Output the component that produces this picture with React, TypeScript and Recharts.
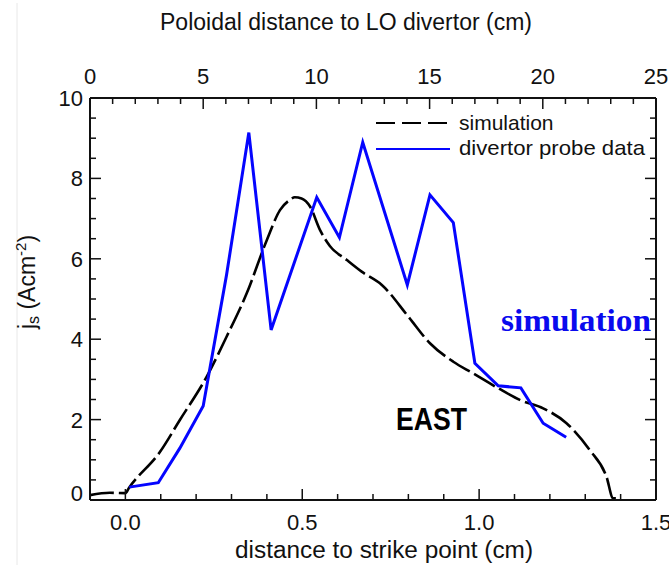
import { Line, LineChart, XAxis, YAxis } from "recharts";

// simulation profile (dashed black)
const simDistance = [
  -0.1, -0.044, 0.0, 0.01, 0.098, 0.154, 0.23, 0.286, 0.343, 0.4, 0.437, 0.466, 0.479, 0.498,
  0.522, 0.55, 0.578, 0.626, 0.668, 0.725, 0.8, 0.861, 0.927, 0.983, 1.054, 1.115, 1.181,
  1.247, 1.313, 1.36, 1.379, 1.398,
];
const simCurrent = [
  0.12, 0.18, 0.17, 0.3, 1.2, 1.99, 3.07, 4.06, 5.14, 6.47, 7.21, 7.47, 7.53, 7.5, 7.3, 6.72,
  6.32, 5.97, 5.68, 5.35, 4.56, 3.9, 3.44, 3.15, 2.78, 2.49, 2.28, 1.91, 1.24, 0.58, 0.04, 0.04,
];

// divertor probe data (solid blue)
const probeDistance = [
  0.011, 0.093, 0.154, 0.22, 0.286, 0.349, 0.412, 0.541, 0.605, 0.671, 0.797, 0.861, 0.927,
  0.988, 1.054, 1.118, 1.181, 1.246,
];
const probeCurrent = [
  0.32, 0.43, 1.29, 2.34, 5.6, 9.14, 4.23, 7.53, 6.53, 8.9, 5.35, 7.59, 6.9, 3.4, 2.84, 2.79,
  1.91, 1.56,
];

// top axis: poloidal distance (cm), 0–25
const poloidalRange = [0, 25];

const bottomTicks = [
  -0.1, 0, 0.1, 0.2, 0.3, 0.4, 0.5, 0.6, 0.7, 0.8, 0.9, 1.0, 1.1, 1.2, 1.3, 1.4, 1.5,
];
const bottomMajor = [0, 0.5, 1.0, 1.5];
const topTicks = Array.from({ length: 26 }, (_, i) => i);
const topMajor = [0, 5, 10, 15, 20, 25];
const yTicks = Array.from({ length: 21 }, (_, i) => i * 0.5);
const yMajor = [0, 2, 4, 6, 8, 10];

const simData = simDistance.map((x, i) => ({ x, y: simCurrent[i] }));
const probeData = probeDistance.map((x, i) => ({ x, y: probeCurrent[i] }));
// invisible series so the top / right axes get drawn
const frameData = poloidalRange.map((x, i) => ({ x, y: i * 10 }));

const FONT = "'Liberation Sans', Arial, sans-serif";
const isIn = (list: number[], v: number) => list.some((m) => Math.abs(m - v) < 1e-6);

function BottomTick(props: any) {
  const { x, y, payload } = props;
  const major = isIn(bottomMajor, payload.value);
  return (
    <g>
      <line x1={x} x2={x} y1={y} y2={y - (major ? 11 : 6)} stroke="#111" strokeWidth={1.5} />
      {major && (
        <text x={x} y={y + 30} textAnchor="middle" fontSize={22} fontFamily={FONT} fill="#111">
          {payload.value.toFixed(1)}
        </text>
      )}
    </g>
  );
}

function TopTick(props: any) {
  const { x, y, payload } = props;
  const major = isIn(topMajor, payload.value);
  return (
    <g>
      <line x1={x} x2={x} y1={y} y2={y + (major ? 11 : 6)} stroke="#111" strokeWidth={1.5} />
      {major && (
        <text x={x} y={y - 14} textAnchor="middle" fontSize={22} fontFamily={FONT} fill="#111">
          {payload.value}
        </text>
      )}
    </g>
  );
}

function LeftTick(props: any) {
  const { x, y, payload } = props;
  const major = isIn(yMajor, payload.value);
  return (
    <g>
      <line x1={x} x2={x + (major ? 11 : 6)} y1={y} y2={y} stroke="#111" strokeWidth={1.5} />
      {major && (
        <text
          x={x - 7}
          y={y + 8 - (payload.value === 0 ? 7 : 0)}
          textAnchor="end"
          fontSize={22}
          fontFamily={FONT}
          fill="#111"
        >
          {payload.value}
        </text>
      )}
    </g>
  );
}

function RightTick(props: any) {
  const { x, y, payload } = props;
  const major = isIn(yMajor, payload.value);
  return <line x1={x} x2={x - (major ? 11 : 6)} y1={y} y2={y} stroke="#111" strokeWidth={1.5} />;
}

const axisLine = { stroke: "#111", strokeWidth: 2 };

export default function App() {
  return (
    <div style={{ position: "absolute", left: 0, top: 0, width: 669, height: 565, background: "#fff" }}>
      <LineChart width={669} height={565} margin={{ top: 0, right: 0, bottom: 0, left: 0 }}>
        <XAxis
          xAxisId="bottom"
          type="number"
          dataKey="x"
          domain={[-0.1, 1.5]}
          ticks={bottomTicks}
          interval={0}
          allowDataOverflow
          height={65}
          tickSize={0}
          tickMargin={0}
          tickLine={false}
          axisLine={axisLine}
          tick={(p: any) => <BottomTick {...p} />}
        />
        <XAxis
          xAxisId="top"
          orientation="top"
          type="number"
          dataKey="x"
          domain={poloidalRange}
          ticks={topTicks}
          interval={0}
          allowDataOverflow
          height={98}
          tickSize={0}
          tickMargin={0}
          tickLine={false}
          axisLine={axisLine}
          tick={(p: any) => <TopTick {...p} />}
        />
        <YAxis
          yAxisId="left"
          type="number"
          domain={[0, 10]}
          ticks={yTicks}
          interval={0}
          allowDataOverflow
          width={90}
          tickSize={0}
          tickMargin={0}
          tickLine={false}
          axisLine={axisLine}
          tick={(p: any) => <LeftTick {...p} />}
        />
        <YAxis
          yAxisId="right"
          orientation="right"
          type="number"
          domain={[0, 10]}
          ticks={yTicks}
          interval={0}
          allowDataOverflow
          width={13}
          tickSize={0}
          tickMargin={0}
          tickLine={false}
          axisLine={axisLine}
          tick={(p: any) => <RightTick {...p} />}
        />
        <Line
          xAxisId="top"
          yAxisId="right"
          data={frameData}
          dataKey="y"
          stroke="none"
          dot={false}
          activeDot={false}
          legendType="none"
          isAnimationActive={false}
        />
        <Line
          xAxisId="bottom"
          yAxisId="left"
          data={simData}
          dataKey="y"
          type="monotone"
          stroke="#000"
          strokeWidth={2.6}
          strokeDasharray="24 5"
          dot={false}
          isAnimationActive={false}
        />
        <Line
          xAxisId="bottom"
          yAxisId="left"
          data={probeData}
          dataKey="y"
          type="linear"
          stroke="#0505ff"
          strokeWidth={3}
          dot={false}
          isAnimationActive={false}
        />
      </LineChart>

      <svg
        width={669}
        height={565}
        style={{ position: "absolute", left: 0, top: 0, pointerEvents: "none" }}
      >
        <line x1={17} x2={17} y1={3} y2={565} stroke="#e8e8e8" strokeWidth={1} />
        <text x={346} y={30} textAnchor="middle" fontSize={23} fontFamily={FONT} fill="#111">
          Poloidal distance to LO divertor (cm)
        </text>
        <text x={384} y={558} textAnchor="middle" fontSize={23} fontFamily={FONT} fill="#111" textLength={298} lengthAdjust="spacingAndGlyphs">
          distance to strike point (cm)
        </text>
        <text
          transform="translate(35 282) rotate(-90)"
          textAnchor="middle"
          fontSize={23}
          fontFamily={FONT}
          fill="#111"
        >
          j<tspan fontSize={16} dy={4}>s</tspan>
          <tspan dy={-4}> (Acm</tspan>
          <tspan fontSize={15} dy={-9}>-2</tspan>
          <tspan dy={9}>)</tspan>
        </text>

        {/* legend */}
        <line x1={376} x2={448} y1={123} y2={123} stroke="#000" strokeWidth={2.2} strokeDasharray="19 7" />
        <text x={459} y={130} fontSize={21} fontFamily={FONT} fill="#111">
          simulation
        </text>
        <line x1={376} x2={450} y1={149} y2={149} stroke="#0505ff" strokeWidth={2.2} />
        <text x={459} y={155} fontSize={21} fontFamily={FONT} fill="#111" textLength={186} lengthAdjust="spacingAndGlyphs">
          divertor probe data
        </text>

        <text
          x={501}
          y={331}
          fontSize={31}
          fontWeight="bold"
          fontFamily="'Liberation Serif', 'Times New Roman', serif"
          fill="#0a0aee"
          textLength={150}
          lengthAdjust="spacingAndGlyphs"
        >
          simulation
        </text>
        <text
          x={396}
          y={430}
          fontSize={31}
          fontWeight="bold"
          fontFamily={FONT}
          fill="#000"
          textLength={71}
          lengthAdjust="spacingAndGlyphs"
        >
          EAST
        </text>
      </svg>
    </div>
  );
}
